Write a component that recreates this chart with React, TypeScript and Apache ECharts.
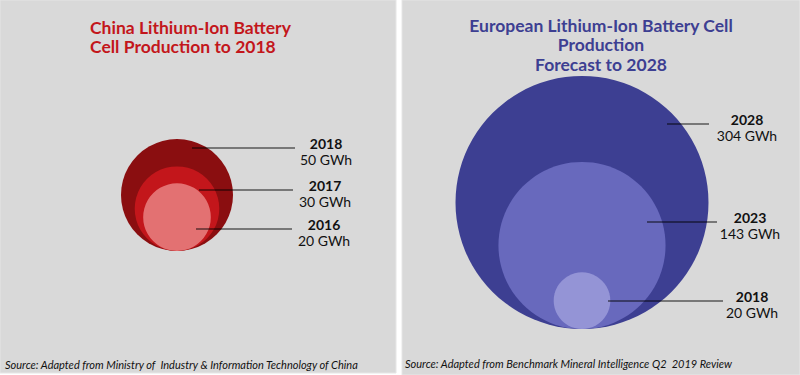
import React, { useEffect, useRef } from "react";
import * as echarts from "echarts";

// ---- data ----
const chinaYears = ["2018", "2017", "2016"];
const chinaValues = [50, 30, 20];
const chinaUnit = "GWh";
const chinaTitle = "China Lithium-Ion Battery\nCell Production to 2018";
const chinaSource = "Source: Adapted from Ministry of  Industry & Information Technology of China";

const euYears = ["2028", "2023", "2018"];
const euValues = [304, 143, 20];
const euUnit = "GWh";
const euTitle = "European Lithium-Ion Battery Cell\nProduction\nForecast to 2028";
const euSource = "Source: Adapted from Benchmark Mineral Intelligence Q2  2019 Review";

// ---- styles ----
const chinaColors = ["#8a0e10", "#c3161b", "#e37172"];
const euColors = ["#3d3f92", "#6869bd", "#9494d6"];
const FONT = "Lato, 'Open Sans', sans-serif";

function circleData(values: number[], colors: string[], maxDiameter: number) {
  const max = Math.max(...values);
  return values
    .map((v, i) => {
      const s = maxDiameter * Math.pow(v / max, 0.55);
      return {
        value: [0.5, 0, v],
        symbolSize: s,
        symbolOffset: [0, -s / 2],
        itemStyle: { color: colors[i], opacity: 1 },
      };
    })
    .sort((a, b) => b.value[2] - a.value[2]);
}

function annotations(
  years: string[],
  values: number[],
  unit: string,
  lines: { x1: number; x2: number; y: number; tx: number }[]
) {
  const els: any[] = [];
  years.forEach((yr, i) => {
    const l = lines[i];
    els.push({
      type: "line",
      z: 100,
      shape: { x1: l.x1, y1: l.y, x2: l.x2, y2: l.y },
      style: { stroke: "rgba(0,0,0,0.6)", lineWidth: 1.3 },
    });
    els.push({
      type: "text",
      z: 100,
      x: l.tx,
      y: l.y - 5,
      style: {
        text: yr,
        fill: "#111",
        font: `bold 14px ${FONT}`,
        textAlign: "center",
        textVerticalAlign: "middle",
      },
    });
    els.push({
      type: "text",
      z: 100,
      x: l.tx,
      y: l.y + 11,
      style: {
        text: `${values[i]} ${unit}`,
        fill: "#111",
        font: `14px ${FONT}`,
        textAlign: "center",
        textVerticalAlign: "middle",
      },
    });
  });
  return els;
}

export default function App() {
  const ref = useRef<HTMLDivElement>(null);
  useEffect(() => {
    if (!ref.current) return;
    const chart = echarts.init(ref.current, null, { renderer: "svg" });
    const hiddenAxis = (idx: number) => ({
      gridIndex: idx,
      type: "value",
      min: 0,
      max: 1,
      show: false,
    });
    const option: any = {
      animation: false,
      backgroundColor: "#ffffff",
      grid: [
        { left: 127, width: 100, top: 60, bottom: 375 - 251 },
        { left: 532, width: 100, top: 60, bottom: 375 - 329 },
      ],
      xAxis: [hiddenAxis(0), hiddenAxis(1)],
      yAxis: [hiddenAxis(0), hiddenAxis(1)],
      series: [
        {
          type: "scatter",
          xAxisIndex: 0,
          yAxisIndex: 0,
          symbol: "circle",
          data: circleData(chinaValues, chinaColors, 112),
          z: 5,
        },
        {
          type: "scatter",
          xAxisIndex: 1,
          yAxisIndex: 1,
          symbol: "circle",
          data: circleData(euValues, euColors, 253),
          z: 5,
        },
      ],
      graphic: [
        {
          type: "rect",
          z: -10,
          shape: { x: 0, y: 0, width: 396, height: 373 },
          style: { fill: "#d9d9d9", stroke: "#e6e6e6", lineWidth: 1 },
        },
        {
          type: "rect",
          z: -10,
          shape: { x: 402, y: 0, width: 398, height: 375 },
          style: { fill: "#d9d9d9", stroke: "#e6e6e6", lineWidth: 1 },
        },
        {
          type: "text",
          z: 100,
          x: 90,
          y: 18,
          style: {
            text: chinaTitle,
            fill: "#c3161b",
            font: `bold 17.5px ${FONT}`,
            lineHeight: 19,
            textAlign: "left",
            textVerticalAlign: "top",
          },
        },
        {
          type: "text",
          z: 100,
          x: 601,
          y: 16,
          style: {
            text: euTitle,
            fill: "#3d3f92",
            font: `bold 17.5px ${FONT}`,
            lineHeight: 19.3,
            textAlign: "center",
            textVerticalAlign: "top",
          },
        },
        {
          type: "text",
          z: 100,
          x: 5,
          y: 364,
          style: {
            text: chinaSource,
            fill: "#111",
            font: `italic 11px ${FONT}`,
            textAlign: "left",
            textVerticalAlign: "middle",
          },
        },
        {
          type: "text",
          z: 100,
          x: 405,
          y: 363,
          style: {
            text: euSource,
            fill: "#111",
            font: `italic 11px ${FONT}`,
            textAlign: "left",
            textVerticalAlign: "middle",
          },
        },
        ...annotations(chinaYears, chinaValues, chinaUnit, [
          { x1: 192, x2: 295, y: 148, tx: 326 },
          { x1: 199, x2: 293, y: 190, tx: 325 },
          { x1: 196, x2: 292, y: 229, tx: 324 },
        ]),
        ...annotations(euYears, euValues, euUnit, [
          { x1: 667, x2: 709, y: 124, tx: 747 },
          { x1: 647, x2: 717, y: 222, tx: 750 },
          { x1: 608, x2: 723, y: 301, tx: 752 },
        ]),
      ],
    };
    chart.setOption(option);
    return () => chart.dispose();
  }, []);
  return (
    <div
      ref={ref}
      style={{ position: "fixed", left: 0, top: 0, width: 800, height: 375 }}
    />
  );
}
